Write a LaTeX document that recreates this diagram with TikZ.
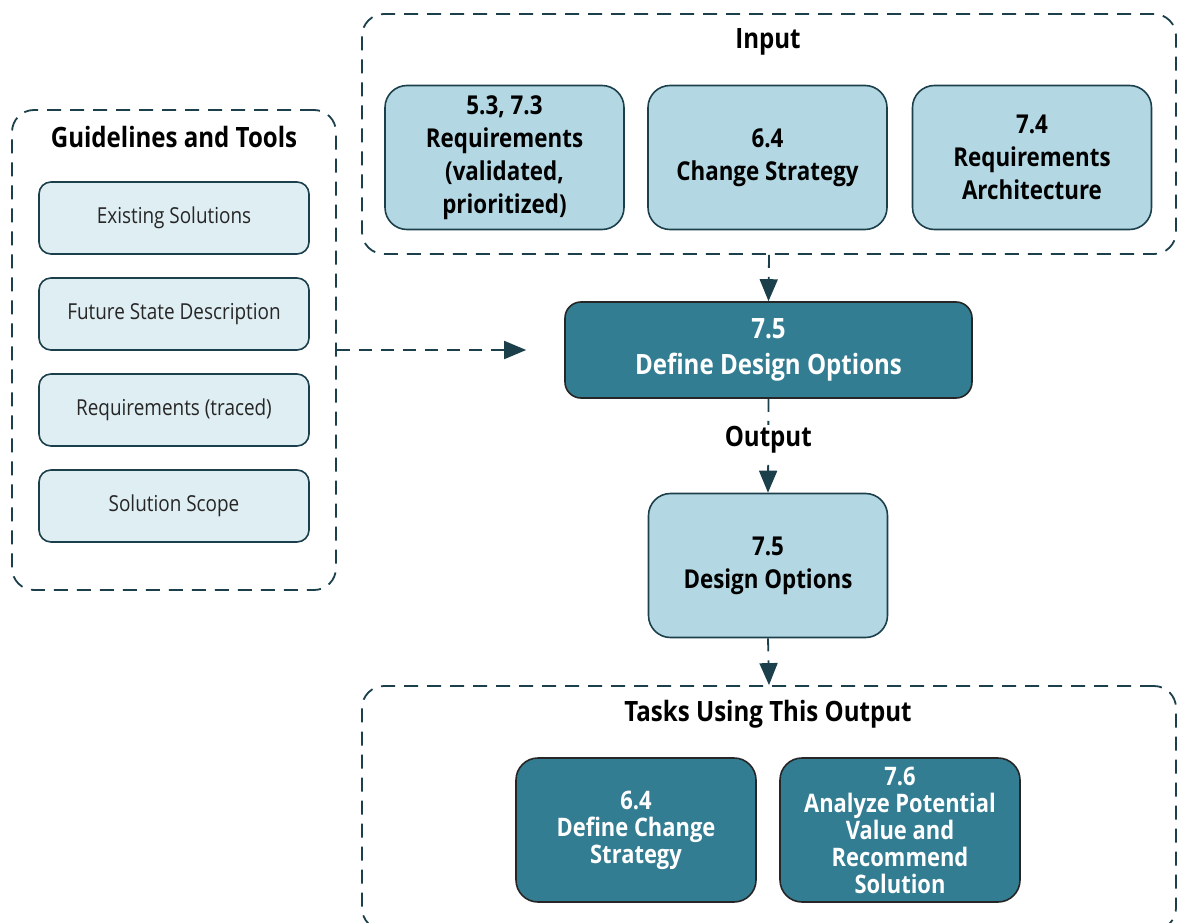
\documentclass[tikz,border=0pt]{standalone}
\usepackage{fontspec}
\setmainfont[FakeStretch=0.86]{Open Sans}
\usetikzlibrary{arrows.meta}
\definecolor{lightbox}{HTML}{B3D8E4}
\definecolor{paleb}{HTML}{DFEEF3}
\definecolor{teal}{HTML}{337D93}
\definecolor{edge}{HTML}{1B3F4B}
\begin{document}
\begin{tikzpicture}[x=1pt,y=-1pt,
  container/.style={draw=edge,line width=1.8pt,dash pattern=on 14pt off 9pt,rounded corners=22pt,minimum width=#1},
  ltbox/.style={draw=edge,line width=1.6pt,fill=lightbox,rounded corners=22pt,minimum width=239pt,minimum height=144pt,align=center,font=\fontsize{26}{33}\selectfont\bfseries,text=black},
  palebox/.style={draw=edge,line width=1.6pt,fill=paleb,rounded corners=12pt,minimum width=270pt,minimum height=72pt,align=center,font=\fontsize{22}{26}\selectfont,text=black!85},
  darkbox/.style={draw=black!85,line width=1.6pt,fill=teal,rounded corners=22pt,align=center,text=white},
  title/.style={font=\fontsize{28}{32}\selectfont\bfseries,text=black},
  conn/.style={draw=edge,line width=1.8pt,dash pattern=on 13pt off 9pt,-{Triangle[length=22pt,width=18pt]}}
]
\useasboundingbox (0,0) rectangle (1178,923);
% containers
\node[container=814pt,minimum height=240pt] (inp) at (769,134) {};
\node[title] (inpt) at (768,42) {Input};
\node[container=324pt,minimum height=480pt] (gl) at (174,350) {};
\node[title] (glt) at (174,137) {Guidelines and Tools};
\node[container=814pt,minimum height=244pt] (tasks) at (769,808) {};
\node[title] (taskt) at (768,714) {Tasks Using This Output};
% input boxes
\node[ltbox] (i1) at (504.5,157.5) {5.3, 7.3\\Requirements\\(validated,\\prioritized)};
\node[ltbox] (i2) at (767.5,157.5) {6.4\\Change Strategy};
\node[ltbox] (i3) at (1032,157.5) {7.4\\Requirements\\Architecture};
% guideline boxes
\node[palebox] (g1) at (174,218) {Existing Solutions};
\node[palebox] (g2) at (174,314) {Future State Description};
\node[palebox] (g3) at (174,410) {Requirements (traced)};
\node[palebox] (g4) at (174,506) {Solution Scope};
% main task
\node[darkbox,minimum width=407pt,minimum height=96pt,rounded corners=16pt,font=\fontsize{28}{36}\selectfont\bfseries] (def) at (768.5,350) {7.5\\Define Design Options};
% output
\node[ltbox] (out) at (768,565.5) {7.5\\Design Options};
% tasks
\node[darkbox,minimum width=240pt,minimum height=144pt,font=\fontsize{25.5}{27}\selectfont\bfseries] (t1) at (636,830) {6.4\\Define Change\\Strategy};
\node[darkbox,minimum width=240pt,minimum height=144pt,font=\fontsize{25.5}{27}\selectfont\bfseries] (t2) at (900,830) {7.6\\Analyze Potential\\Value and\\Recommend\\Solution};
% connectors
\draw[conn] (inp.south) -- (def.north);
\draw[conn,shorten >=38pt] (gl.east) -- (def.west);
\draw[conn] (def.south) -- (out.north) node[pos=0.44,fill=white,inner sep=2pt,title] (outl) {Output};
\draw[conn] (out.south) -- (tasks.north);
\end{tikzpicture}
\end{document}
